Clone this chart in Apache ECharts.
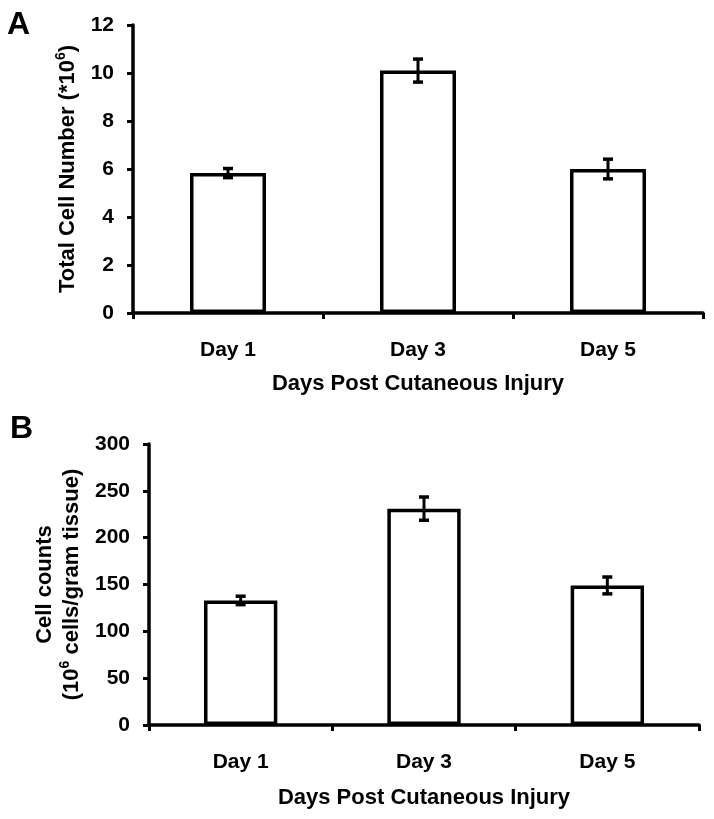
<!DOCTYPE html>
<html>
<head>
<meta charset="utf-8">
<script src="https://cdn.jsdelivr.net/npm/echarts@6/dist/echarts.min.js"></script>
<style>
html,body{margin:0;padding:0;background:#fff;}
#chart{width:714px;height:819px;}
</style>
</head>
<body>
<div id="chart"></div>
<script>
// ---- data ----
const categories = ['Day 1', 'Day 3', 'Day 5'];
const totalCells = [5.83, 10.1, 6.0];          // panel A means (*10^6)
const totalCellsErr = [0.19, 0.48, 0.41];      // panel A error (±)
const cellCounts = [133, 231, 149];            // panel B means (10^6 cells/gram tissue)
const cellCountsErr = [4.5, 12.4, 9];          // panel B error (±)
const yTicksA = [0, 2, 4, 6, 8, 10, 12];
const yTicksB = [0, 50, 100, 150, 200, 250, 300];

const FONT = '"Liberation Sans", Arial, Helvetica, sans-serif';
const chart = echarts.init(document.getElementById('chart'), null, {renderer: 'canvas'});

function errData(vals, errs) {
  return vals.map((v, i) => [i, v - errs[i], v + errs[i]]);
}
function errorRender(params, api) {
  const x = api.value(0);
  const lo = api.coord([x, api.value(1)]);
  const hi = api.coord([x, api.value(2)]);
  const cap = 5;
  const style = {stroke: '#000', lineWidth: 3};
  const capStyle = {stroke: '#000', lineWidth: 3.5};
  return {
    type: 'group',
    children: [
      {type: 'line', shape: {x1: hi[0], y1: hi[1], x2: lo[0], y2: lo[1]}, style},
      {type: 'line', shape: {x1: hi[0] - cap, y1: hi[1], x2: hi[0] + cap, y2: hi[1]}, style: capStyle},
      {type: 'line', shape: {x1: lo[0] - cap, y1: lo[1], x2: lo[0] + cap, y2: lo[1]}, style: capStyle}
    ]
  };
}

const axisLineStyle = {lineStyle: {color: '#000', width: 3.5}};
const tickStyle = {show: true, length: 6, lineStyle: {color: '#000', width: 3}};
const labelStyle = {color: '#000', fontWeight: 'bold', fontFamily: FONT};

function xAxis(gridIndex) {
  return {
    type: 'category', gridIndex, data: categories,
    axisLine: axisLineStyle, axisTick: tickStyle,
    axisLabel: Object.assign({fontSize: 21, margin: 27}, labelStyle),
    name: 'Days Post Cutaneous Injury', nameLocation: 'middle', nameGap: gridIndex === 0 ? 60 : 62,
    nameTextStyle: Object.assign({fontSize: 22}, labelStyle)
  };
}

const supRich = {
  sup: {fontSize: 14, fontWeight: 'bold', fontFamily: FONT, color: '#000', verticalAlign: 'top', lineHeight: 14},
  base: {fontSize: 22, fontWeight: 'bold', fontFamily: FONT, color: '#000', lineHeight: 27}
};

chart.setOption({
  animation: false,
  backgroundColor: '#fff',
  textStyle: {fontFamily: FONT},
  grid: [
    {left: 133, right: 11, top: 25, height: 288},
    {left: 149, right: 15, top: 444, height: 281}
  ],
  graphic: [
    {type: 'text', left: 7, top: 9, style: {text: 'A', font: 'bold 32px ' + FONT, fill: '#000'}},
    {type: 'text', left: 10, top: 413, style: {text: 'B', font: 'bold 32px ' + FONT, fill: '#000'}}
  ],
  xAxis: [xAxis(0), xAxis(1)],
  yAxis: [
    {
      type: 'value', gridIndex: 0, min: yTicksA[0], max: yTicksA[yTicksA.length - 1], interval: 2,
      splitLine: {show: false}, axisLine: Object.assign({show: true}, axisLineStyle),
      axisTick: tickStyle,
      axisLabel: Object.assign({fontSize: 21, margin: 19}, labelStyle),
      name: '{base|Total Cell Number (*10}{sup|6}{base|)}', nameLocation: 'middle', nameGap: 52, nameRotate: 90,
      nameTextStyle: {rich: supRich}
    },
    {
      type: 'value', gridIndex: 1, min: yTicksB[0], max: yTicksB[yTicksB.length - 1], interval: 50,
      splitLine: {show: false}, axisLine: Object.assign({show: true}, axisLineStyle),
      axisTick: tickStyle,
      axisLabel: Object.assign({fontSize: 21, margin: 19}, labelStyle),
      name: '{base|Cell counts}\n{base|(10}{sup|6}{base| cells/gram tissue)}', nameLocation: 'middle', nameGap: 64, nameRotate: 90,
      nameTextStyle: {rich: supRich, align: 'center'}
    }
  ],
  series: [
    {
      type: 'bar', xAxisIndex: 0, yAxisIndex: 0, data: totalCells, barWidth: '40%',
      itemStyle: {color: '#fff', borderColor: '#000', borderWidth: 3.5}
    },
    {
      type: 'custom', xAxisIndex: 0, yAxisIndex: 0, data: errData(totalCells, totalCellsErr),
      renderItem: errorRender, z: 5
    },
    {
      type: 'bar', xAxisIndex: 1, yAxisIndex: 1, data: cellCounts, barWidth: '40%',
      itemStyle: {color: '#fff', borderColor: '#000', borderWidth: 3.5}
    },
    {
      type: 'custom', xAxisIndex: 1, yAxisIndex: 1, data: errData(cellCounts, cellCountsErr),
      renderItem: errorRender, z: 5
    }
  ]
});
</script>
</body>
</html>
